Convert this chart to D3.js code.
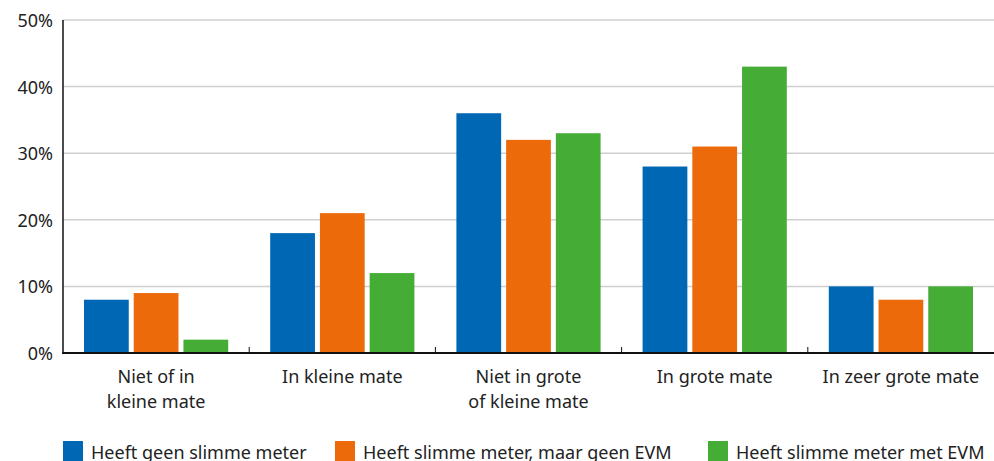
<!DOCTYPE html>
<html>
<head>
<meta charset="utf-8">
<script src="https://cdn.jsdelivr.net/npm/d3@7"></script>
<style>
  body { margin: 0; background: #fff; }
  svg { display: block; font-family: "Noto Sans", sans-serif; }
</style>
</head>
<body>
<svg id="chart" width="994" height="461"></svg>
<script>
var categories = [["Niet of in", "kleine mate"], ["In kleine mate"], ["Niet in grote", "of kleine mate"], ["In grote mate"], ["In zeer grote mate"]];
var seriesNames = ["Heeft geen slimme meter", "Heeft slimme meter, maar geen EVM", "Heeft slimme meter met EVM"];
var geenMeter = [8, 18, 36, 28, 10];
var meterGeenEvm = [9, 21, 32, 31, 8];
var meterMetEvm = [2, 12, 33, 43, 10];
var yTicks = [0, 10, 20, 30, 40, 50];
var colors = ["#0067b4", "#ec6a0a", "#45ad35"];

var series = [geenMeter, meterGeenEvm, meterMetEvm];
var svg = d3.select("#chart");
var margin = {left: 63, right: 0, top: 20, bottom: 108};
var width = 994, height = 461;

var x = d3.scaleBand()
  .domain(d3.range(categories.length))
  .range([margin.left, width])
  .paddingInner(0).paddingOuter(0);

var inner = d3.scaleBand()
  .domain(d3.range(series.length))
  .range([21, x.bandwidth() - 21])
  .paddingInner(0.1);

var y = d3.scaleLinear().domain([0, 50]).range([height - margin.bottom, margin.top]);

// gridlines
svg.append("g")
  .selectAll("line")
  .data(yTicks.slice(1))
  .enter().append("line")
  .attr("x1", margin.left).attr("x2", width)
  .attr("y1", d => y(d)).attr("y2", d => y(d))
  .style("stroke", "#cfcfcf").style("stroke-width", 1.5);

// y labels
svg.append("g")
  .selectAll("text")
  .data(yTicks)
  .enter().append("text")
  .attr("x", 53)
  .attr("y", d => y(d))
  .attr("text-anchor", "end")
  .attr("dominant-baseline", "central")
  .style("font-size", "18px")
  .style("fill", "#222")
  .text(d => d + "%");

// bars
series.forEach(function(vals, s) {
  svg.append("g")
    .selectAll("rect")
    .data(vals)
    .enter().append("rect")
    .attr("x", (d, i) => x(i) + inner(s))
    .attr("width", inner.bandwidth())
    .attr("y", d => y(d))
    .attr("height", d => y(0) - y(d))
    .attr("fill", colors[s]);
});

// axes lines
svg.append("line")
  .attr("x1", margin.left).attr("x2", margin.left)
  .attr("y1", y(50)).attr("y2", y(0) + 1)
  .style("stroke", "#111").style("stroke-width", 1.5);
svg.append("line")
  .attr("x1", margin.left - 0.75).attr("x2", width)
  .attr("y1", y(0)).attr("y2", y(0))
  .style("stroke", "#111").style("stroke-width", 2);

// category ticks
svg.append("g")
  .selectAll("line")
  .data(d3.range(1, categories.length))
  .enter().append("line")
  .attr("x1", d => x(d)).attr("x2", d => x(d))
  .attr("y1", y(0) - 6).attr("y2", y(0))
  .style("stroke", "#111").style("stroke-width", 1);

// category labels
var cat = svg.append("g")
  .selectAll("text")
  .data(categories)
  .enter().append("text")
  .attr("text-anchor", "middle")
  .attr("x", (d, i) => x(i) + x.bandwidth() / 2)
  .attr("y", 383)
  .style("font-size", "18px")
  .style("fill", "#222");
cat.selectAll("tspan")
  .data(d => d)
  .enter().append("tspan")
  .attr("x", function() { return d3.select(this.parentNode).attr("x"); })
  .attr("dy", (d, i) => i ? 25 : 0)
  .text(d => d);

// legend
var legendX = [63, 335, 708];
var legend = svg.append("g")
  .selectAll("g")
  .data(seriesNames)
  .enter().append("g")
  .attr("transform", (d, i) => "translate(" + legendX[i] + ",441)");
legend.append("rect")
  .attr("width", 20).attr("height", 20)
  .attr("fill", (d, i) => colors[i]);
legend.append("text")
  .attr("x", 28).attr("y", 18)
  .style("font-size", "18px")
  .style("fill", "#222")
  .text(d => d);
</script>
</body>
</html>
